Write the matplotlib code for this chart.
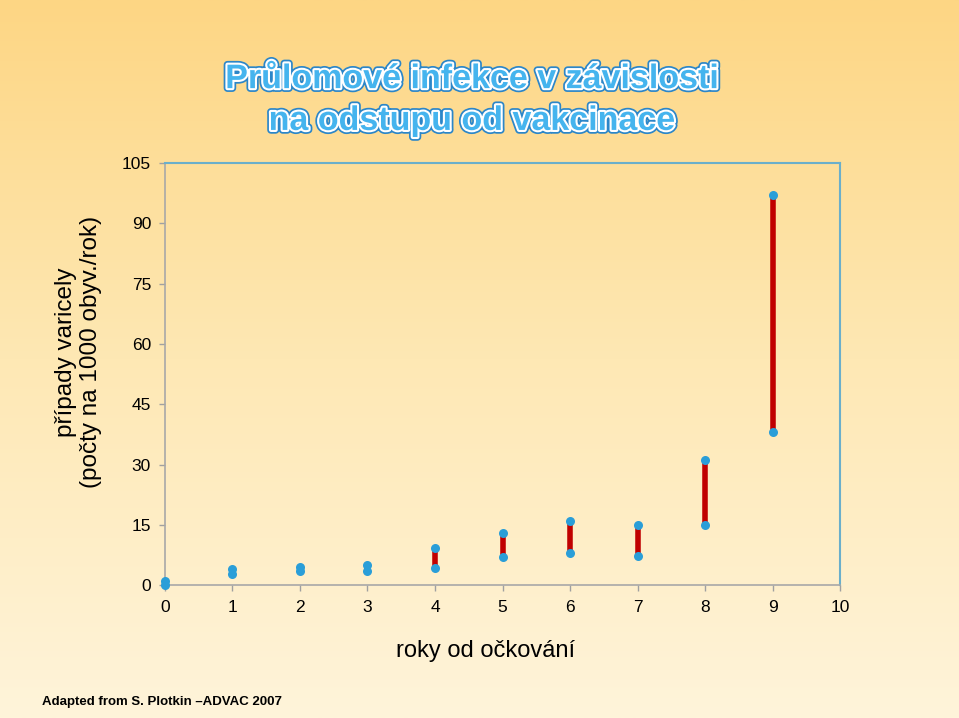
import numpy as np
import matplotlib
matplotlib.use("Agg")
import matplotlib.pyplot as plt
import matplotlib.patheffects as pe
from matplotlib.colors import LinearSegmentedColormap

plt.rcParams['font.family'] = ['Liberation Sans', 'DejaVu Sans']

years = [0, 1, 2, 3, 4, 5, 6, 7, 8, 9]
low = [0.0, 2.7, 3.5, 3.5, 4.2, 7.0, 8.0, 7.2, 14.9, 38.1]
high = [1.0, 4.0, 4.5, 5.0, 9.2, 12.9, 15.9, 14.9, 31.1, 97.0]
yticks = [0, 15, 30, 45, 60, 75, 90, 105]
xticks = list(range(11))

title = "Průlomové infekce v závislosti\nna odstupu od vakcinace"
ylabel = "případy varicely\n(počty na 1000 obyv./rok)"
xlabel = "roky od očkování"
footer = "Adapted from S. Plotkin \u2013ADVAC 2007"

fig = plt.figure(figsize=(9.59, 7.18), dpi=100)

# background gradient
bg = fig.add_axes([0, 0, 1, 1], zorder=-10)
cmap = LinearSegmentedColormap.from_list("bg", ["#FFF4DA", "#FEE8B4", "#FDD684"])
grad = np.linspace(0, 1, 256).reshape(-1, 1)
bg.imshow(grad, aspect='auto', cmap=cmap, origin='lower', extent=[0, 1, 0, 1])
bg.set_axis_off()

ax = fig.add_axes([0.172, 0.185, 0.704, 0.588])
ax.patch.set_alpha(0)

for x, lo, hi in zip(years, low, high):
    ax.plot([x, x], [lo, hi], color='#C00000', lw=4, solid_capstyle='butt', zorder=2)
ax.plot(years, low, 'o', color='#2A9ED8', ms=6.5, mec='none', zorder=3)
ax.plot(years, high, 'o', color='#2A9ED8', ms=6.5, mec='none', zorder=3)

ax.set_xlim(0, 10)
ax.set_ylim(0, 105)
ax.set_xticks(xticks)
ax.set_yticks(yticks)
ax.tick_params(axis='both', labelsize=12.5, colors='#a0a0a0', labelcolor='black',
               length=4, width=1, direction='out')
ax.tick_params(axis='x', pad=7)
ax.tick_params(axis='y', pad=6)
for s in ['left', 'bottom']:
    ax.spines[s].set_color('#a8a8a8')
    ax.spines[s].set_linewidth(1.2)
for s in ['top', 'right']:
    ax.spines[s].set_color('#6AAFCB')
    ax.spines[s].set_linewidth(1.5)
for l in ax.lines:
    l.set_clip_on(False)

fig.text(0.082, 0.51, ylabel, rotation=90, ha='center', va='center',
         fontsize=17.5, linespacing=1.15)
fig.text(0.506, 0.093, xlabel, ha='center', va='center', fontsize=17)
fig.text(0.044, 0.022, footer, ha='left', va='center', fontsize=9.5, fontweight='bold')

t = fig.text(0.492, 0.86, title, ha='center', va='center', fontsize=24.5,
             fontweight='bold', color='#45B4EE', linespacing=1.45)
t.set_path_effects([pe.Stroke(linewidth=5.5, foreground='#2C86C8'),
                    pe.Stroke(linewidth=3, foreground='white'),
                    pe.Normal()])

fig.savefig("out.png", dpi=100)
